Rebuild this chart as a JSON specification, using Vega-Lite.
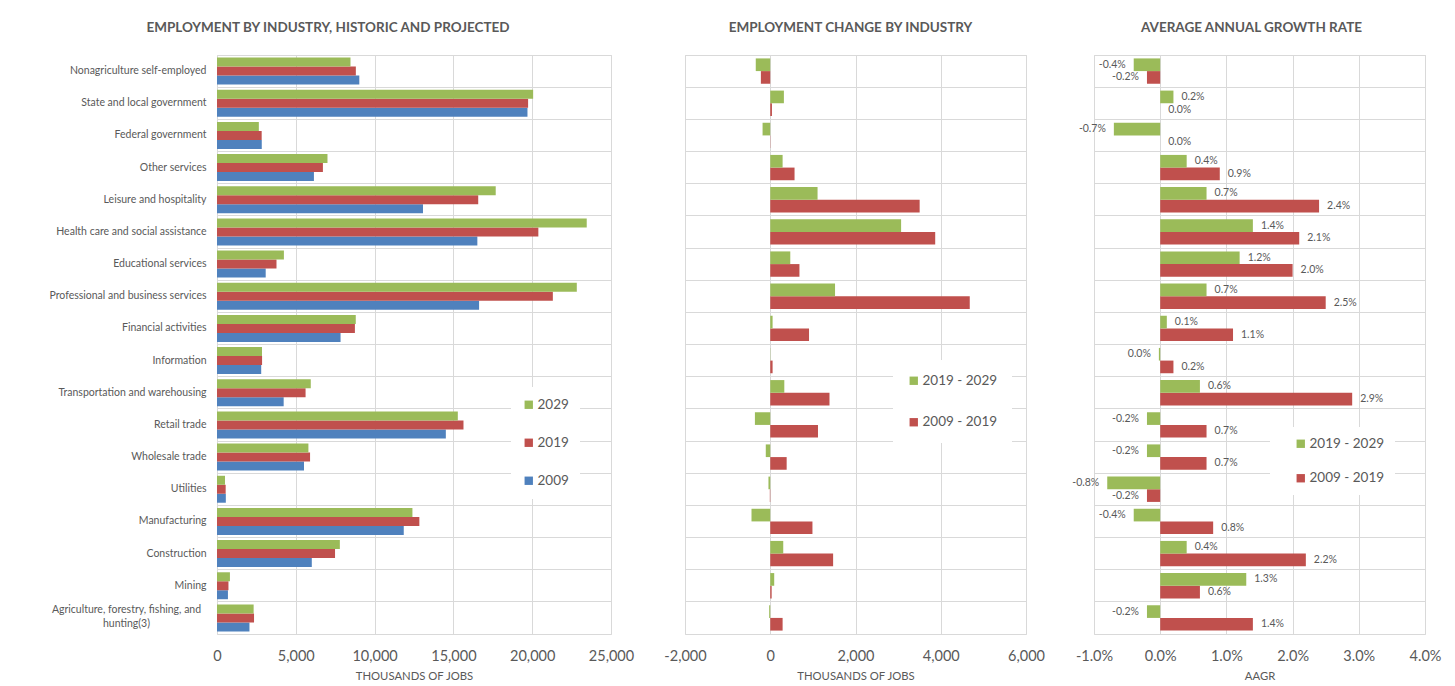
{
  "$schema": "https://vega.github.io/schema/vega-lite/v6.json",
  "background": "white",
  "padding": {"left": 0, "top": 20, "right": 5, "bottom": 0},
  "config": {
    "font": "Lato",
    "locale": {"number": {"decimal": ".", "thousands": ",", "grouping": [3], "currency": ["$", ""], "minus": "-"}},
    "view": {"stroke": "#d9d9d9", "strokeWidth": 1},
    "axis": {
      "labelColor": "#595959", "titleColor": "#595959", "gridColor": "#d9d9d9", "gridWidth": 1,
      "domain": false, "ticks": false, "labelFont": "Lato", "titleFont": "Lato", "titleFontWeight": "normal",
      "labelFlush": false
    },
    "title": {"font": "Lato", "fontSize": 13.5, "fontWeight": "bold", "color": "#595959", "offset": 21, "anchor": "middle", "frame": "group"},
    "legend": {
      "orient": "none", "title": null, "fillColor": "white", "symbolType": "square", "symbolSize": 70,
      "symbolStrokeWidth": 0, "labelFontSize": 13.5, "labelColor": "#595959", "labelFont": "Lato", "labelOffset": 2
    },
    "bar": {"stroke": null}
  },
  "datasets": {
    "employment": [
      {"industry": "Nonagriculture self-employed", "year": "2009", "jobs": 9030},
      {"industry": "Nonagriculture self-employed", "year": "2019", "jobs": 8810},
      {"industry": "Nonagriculture self-employed", "year": "2029", "jobs": 8470},
      {"industry": "State and local government", "year": "2009", "jobs": 19700},
      {"industry": "State and local government", "year": "2019", "jobs": 19740},
      {"industry": "State and local government", "year": "2029", "jobs": 20060},
      {"industry": "Federal government", "year": "2009", "jobs": 2840},
      {"industry": "Federal government", "year": "2019", "jobs": 2835},
      {"industry": "Federal government", "year": "2029", "jobs": 2655},
      {"industry": "Other services", "year": "2009", "jobs": 6150},
      {"industry": "Other services", "year": "2019", "jobs": 6720},
      {"industry": "Other services", "year": "2029", "jobs": 7010},
      {"industry": "Leisure and hospitality", "year": "2009", "jobs": 13070},
      {"industry": "Leisure and hospitality", "year": "2019", "jobs": 16575},
      {"industry": "Leisure and hospitality", "year": "2029", "jobs": 17685},
      {"industry": "Health care and social assistance", "year": "2009", "jobs": 16520},
      {"industry": "Health care and social assistance", "year": "2019", "jobs": 20390},
      {"industry": "Health care and social assistance", "year": "2029", "jobs": 23460},
      {"industry": "Educational services", "year": "2009", "jobs": 3090},
      {"industry": "Educational services", "year": "2019", "jobs": 3775},
      {"industry": "Educational services", "year": "2029", "jobs": 4245},
      {"industry": "Professional and business services", "year": "2009", "jobs": 16630},
      {"industry": "Professional and business services", "year": "2019", "jobs": 21310},
      {"industry": "Professional and business services", "year": "2029", "jobs": 22830},
      {"industry": "Financial activities", "year": "2009", "jobs": 7840},
      {"industry": "Financial activities", "year": "2019", "jobs": 8750},
      {"industry": "Financial activities", "year": "2029", "jobs": 8805},
      {"industry": "Information", "year": "2009", "jobs": 2805},
      {"industry": "Information", "year": "2019", "jobs": 2860},
      {"industry": "Information", "year": "2029", "jobs": 2855},
      {"industry": "Transportation and warehousing", "year": "2009", "jobs": 4230},
      {"industry": "Transportation and warehousing", "year": "2019", "jobs": 5620},
      {"industry": "Transportation and warehousing", "year": "2029", "jobs": 5950},
      {"industry": "Retail trade", "year": "2009", "jobs": 14520},
      {"industry": "Retail trade", "year": "2019", "jobs": 15640},
      {"industry": "Retail trade", "year": "2029", "jobs": 15280},
      {"industry": "Wholesale trade", "year": "2009", "jobs": 5520},
      {"industry": "Wholesale trade", "year": "2019", "jobs": 5905},
      {"industry": "Wholesale trade", "year": "2029", "jobs": 5800},
      {"industry": "Utilities", "year": "2009", "jobs": 560},
      {"industry": "Utilities", "year": "2019", "jobs": 550},
      {"industry": "Utilities", "year": "2029", "jobs": 508},
      {"industry": "Manufacturing", "year": "2009", "jobs": 11850},
      {"industry": "Manufacturing", "year": "2019", "jobs": 12840},
      {"industry": "Manufacturing", "year": "2029", "jobs": 12400},
      {"industry": "Construction", "year": "2009", "jobs": 6015},
      {"industry": "Construction", "year": "2019", "jobs": 7490},
      {"industry": "Construction", "year": "2029", "jobs": 7795},
      {"industry": "Mining", "year": "2009", "jobs": 694},
      {"industry": "Mining", "year": "2019", "jobs": 727},
      {"industry": "Mining", "year": "2029", "jobs": 820},
      {"industry": "Agriculture, forestry, fishing, and hunting(3)", "year": "2009", "jobs": 2060},
      {"industry": "Agriculture, forestry, fishing, and hunting(3)", "year": "2019", "jobs": 2350},
      {"industry": "Agriculture, forestry, fishing, and hunting(3)", "year": "2029", "jobs": 2325}
    ],
    "change": [
      {"industry": "Nonagriculture self-employed", "period": "2009 - 2019", "jobs": -220},
      {"industry": "Nonagriculture self-employed", "period": "2019 - 2029", "jobs": -340},
      {"industry": "State and local government", "period": "2009 - 2019", "jobs": 40},
      {"industry": "State and local government", "period": "2019 - 2029", "jobs": 320},
      {"industry": "Federal government", "period": "2009 - 2019", "jobs": -5},
      {"industry": "Federal government", "period": "2019 - 2029", "jobs": -180},
      {"industry": "Other services", "period": "2009 - 2019", "jobs": 570},
      {"industry": "Other services", "period": "2019 - 2029", "jobs": 290},
      {"industry": "Leisure and hospitality", "period": "2009 - 2019", "jobs": 3505},
      {"industry": "Leisure and hospitality", "period": "2019 - 2029", "jobs": 1110},
      {"industry": "Health care and social assistance", "period": "2009 - 2019", "jobs": 3870},
      {"industry": "Health care and social assistance", "period": "2019 - 2029", "jobs": 3070},
      {"industry": "Educational services", "period": "2009 - 2019", "jobs": 685},
      {"industry": "Educational services", "period": "2019 - 2029", "jobs": 470},
      {"industry": "Professional and business services", "period": "2009 - 2019", "jobs": 4680},
      {"industry": "Professional and business services", "period": "2019 - 2029", "jobs": 1520},
      {"industry": "Financial activities", "period": "2009 - 2019", "jobs": 910},
      {"industry": "Financial activities", "period": "2019 - 2029", "jobs": 55},
      {"industry": "Information", "period": "2009 - 2019", "jobs": 55},
      {"industry": "Information", "period": "2019 - 2029", "jobs": -5},
      {"industry": "Transportation and warehousing", "period": "2009 - 2019", "jobs": 1390},
      {"industry": "Transportation and warehousing", "period": "2019 - 2029", "jobs": 330},
      {"industry": "Retail trade", "period": "2009 - 2019", "jobs": 1120},
      {"industry": "Retail trade", "period": "2019 - 2029", "jobs": -360},
      {"industry": "Wholesale trade", "period": "2009 - 2019", "jobs": 385},
      {"industry": "Wholesale trade", "period": "2019 - 2029", "jobs": -105},
      {"industry": "Utilities", "period": "2009 - 2019", "jobs": -10},
      {"industry": "Utilities", "period": "2019 - 2029", "jobs": -42},
      {"industry": "Manufacturing", "period": "2009 - 2019", "jobs": 990},
      {"industry": "Manufacturing", "period": "2019 - 2029", "jobs": -440},
      {"industry": "Construction", "period": "2009 - 2019", "jobs": 1475},
      {"industry": "Construction", "period": "2019 - 2029", "jobs": 305},
      {"industry": "Mining", "period": "2009 - 2019", "jobs": 33},
      {"industry": "Mining", "period": "2019 - 2029", "jobs": 93},
      {"industry": "Agriculture, forestry, fishing, and hunting(3)", "period": "2009 - 2019", "jobs": 290},
      {"industry": "Agriculture, forestry, fishing, and hunting(3)", "period": "2019 - 2029", "jobs": -25}
    ],
    "aagr": [
      {"industry": "Nonagriculture self-employed", "period": "2009 - 2019", "rate": -0.002},
      {"industry": "Nonagriculture self-employed", "period": "2019 - 2029", "rate": -0.004},
      {"industry": "State and local government", "period": "2009 - 2019", "rate": 0.0},
      {"industry": "State and local government", "period": "2019 - 2029", "rate": 0.002},
      {"industry": "Federal government", "period": "2009 - 2019", "rate": 0.0},
      {"industry": "Federal government", "period": "2019 - 2029", "rate": -0.007},
      {"industry": "Other services", "period": "2009 - 2019", "rate": 0.009},
      {"industry": "Other services", "period": "2019 - 2029", "rate": 0.004},
      {"industry": "Leisure and hospitality", "period": "2009 - 2019", "rate": 0.024},
      {"industry": "Leisure and hospitality", "period": "2019 - 2029", "rate": 0.007},
      {"industry": "Health care and social assistance", "period": "2009 - 2019", "rate": 0.021},
      {"industry": "Health care and social assistance", "period": "2019 - 2029", "rate": 0.014},
      {"industry": "Educational services", "period": "2009 - 2019", "rate": 0.02},
      {"industry": "Educational services", "period": "2019 - 2029", "rate": 0.012},
      {"industry": "Professional and business services", "period": "2009 - 2019", "rate": 0.025},
      {"industry": "Professional and business services", "period": "2019 - 2029", "rate": 0.007},
      {"industry": "Financial activities", "period": "2009 - 2019", "rate": 0.011},
      {"industry": "Financial activities", "period": "2019 - 2029", "rate": 0.001},
      {"industry": "Information", "period": "2009 - 2019", "rate": 0.002},
      {"industry": "Information", "period": "2019 - 2029", "rate": -0.0002},
      {"industry": "Transportation and warehousing", "period": "2009 - 2019", "rate": 0.029},
      {"industry": "Transportation and warehousing", "period": "2019 - 2029", "rate": 0.006},
      {"industry": "Retail trade", "period": "2009 - 2019", "rate": 0.007},
      {"industry": "Retail trade", "period": "2019 - 2029", "rate": -0.002},
      {"industry": "Wholesale trade", "period": "2009 - 2019", "rate": 0.007},
      {"industry": "Wholesale trade", "period": "2019 - 2029", "rate": -0.002},
      {"industry": "Utilities", "period": "2009 - 2019", "rate": -0.002},
      {"industry": "Utilities", "period": "2019 - 2029", "rate": -0.008},
      {"industry": "Manufacturing", "period": "2009 - 2019", "rate": 0.008},
      {"industry": "Manufacturing", "period": "2019 - 2029", "rate": -0.004},
      {"industry": "Construction", "period": "2009 - 2019", "rate": 0.022},
      {"industry": "Construction", "period": "2019 - 2029", "rate": 0.004},
      {"industry": "Mining", "period": "2009 - 2019", "rate": 0.006},
      {"industry": "Mining", "period": "2019 - 2029", "rate": 0.013},
      {"industry": "Agriculture, forestry, fishing, and hunting(3)", "period": "2009 - 2019", "rate": 0.014},
      {"industry": "Agriculture, forestry, fishing, and hunting(3)", "period": "2019 - 2029", "rate": -0.002}
    ]
  },
  "hconcat": [
    {
      "title": {"text": "EMPLOYMENT BY INDUSTRY, HISTORIC AND PROJECTED", "dx": -86},
      "width": 394,
      "height": 579,
      "data": {"name": "employment"},
      "mark": {"type": "bar"},
      "encoding": {
        "y": {
          "field": "industry", "type": "nominal",
          "scale": {
            "domain": ["Nonagriculture self-employed", "State and local government", "Federal government", "Other services", "Leisure and hospitality", "Health care and social assistance", "Educational services", "Professional and business services", "Financial activities", "Information", "Transportation and warehousing", "Retail trade", "Wholesale trade", "Utilities", "Manufacturing", "Construction", "Mining", "Agriculture, forestry, fishing, and hunting(3)"],
            "paddingInner": 0, "paddingOuter": 0
          },
          "axis": {
            "title": null, "grid": true, "bandPosition": 0, "labelFontSize": 10.5, "labelLimit": 210,
            "minExtent": 216, "maxExtent": 216, "labelLineHeight": 14,
            "labelExpr": "datum.value == 'Agriculture, forestry, fishing, and hunting(3)' ? ['Agriculture, forestry, fishing, and', 'hunting(3)'] : datum.value",
            "labelAlign": {"condition": {"test": "datum.value == 'Agriculture, forestry, fishing, and hunting(3)'", "value": "center"}, "value": "right"},
            "labelPadding": {"condition": {"test": "datum.value == 'Agriculture, forestry, fishing, and hunting(3)'", "value": 91}, "value": 11},
            "labelOffset": {"condition": {"test": "datum.value == 'Agriculture, forestry, fishing, and hunting(3)'", "value": -8}, "value": 0}
          }
        },
        "x": {
          "field": "jobs", "type": "quantitative",
          "scale": {"domain": [0, 25000], "nice": false},
          "axis": {
            "values": [0, 5000, 10000, 15000, 20000, 25000], "format": ",.0f", "grid": true,
            "title": "THOUSANDS OF JOBS", "labelFontSize": 14.5, "labelPadding": 15,
            "titleFontSize": 11.3, "titlePadding": 8
          }
        },
        "yOffset": {"field": "year", "type": "nominal", "sort": ["2029", "2019", "2009"], "scale": {"paddingInner": 0, "paddingOuter": 0.29}},
        "color": {
          "field": "year", "type": "nominal",
          "scale": {"domain": ["2029", "2019", "2009"], "range": ["#9bbb59", "#c0504d", "#4f81bd"]},
          "legend": {"legendX": 294, "legendY": 332, "padding": 11, "rowPadding": 23}
        }
      }
    },
    {
      "hconcat": [
        {
          "title": {"text": "EMPLOYMENT CHANGE BY INDUSTRY", "dx": -5},
          "width": 341,
          "height": 579,
          "data": {"name": "change"},
          "mark": {"type": "bar"},
          "encoding": {
            "y": {
              "field": "industry", "type": "nominal",
              "scale": {
                "domain": ["Nonagriculture self-employed", "State and local government", "Federal government", "Other services", "Leisure and hospitality", "Health care and social assistance", "Educational services", "Professional and business services", "Financial activities", "Information", "Transportation and warehousing", "Retail trade", "Wholesale trade", "Utilities", "Manufacturing", "Construction", "Mining", "Agriculture, forestry, fishing, and hunting(3)"],
                "paddingInner": 0, "paddingOuter": 0
              },
              "axis": {"title": null, "labels": false, "grid": true, "bandPosition": 0, "minExtent": 0, "maxExtent": 0}
            },
            "x": {
              "field": "jobs", "type": "quantitative",
              "scale": {"domain": [-2000, 6000], "nice": false},
              "axis": {
                "values": [-2000, 0, 2000, 4000, 6000], "format": ",.0f", "grid": true,
                "title": "THOUSANDS OF JOBS", "labelFontSize": 14.5, "labelPadding": 15,
                "titleFontSize": 11.3, "titlePadding": 8
              }
            },
            "yOffset": {"field": "period", "type": "nominal", "sort": ["2019 - 2029", "2009 - 2019"], "scale": {"paddingInner": 0, "paddingOuter": 0.27}},
            "color": {
              "field": "period", "type": "nominal",
              "scale": {"domain": ["2019 - 2029", "2009 - 2019"], "range": ["#9bbb59", "#c0504d"]},
              "legend": {"legendX": 208, "legendY": 305, "padding": 14, "rowPadding": 26.5}
            }
          }
        },
        {
          "title": {"text": "AVERAGE ANNUAL GROWTH RATE", "dx": -8},
          "width": 331,
          "height": 579,
          "data": {"name": "aagr"},
          "encoding": {
            "y": {
              "field": "industry", "type": "nominal",
              "scale": {
                "domain": ["Nonagriculture self-employed", "State and local government", "Federal government", "Other services", "Leisure and hospitality", "Health care and social assistance", "Educational services", "Professional and business services", "Financial activities", "Information", "Transportation and warehousing", "Retail trade", "Wholesale trade", "Utilities", "Manufacturing", "Construction", "Mining", "Agriculture, forestry, fishing, and hunting(3)"],
                "paddingInner": 0, "paddingOuter": 0
              },
              "axis": {"title": null, "labels": false, "grid": true, "bandPosition": 0, "minExtent": 0, "maxExtent": 0}
            },
            "x": {
              "field": "rate", "type": "quantitative",
              "scale": {"domain": [-0.01, 0.04], "nice": false},
              "axis": {
                "values": [-0.01, 0, 0.01, 0.02, 0.03, 0.04], "format": ".1%", "grid": true,
                "title": "AAGR", "labelFontSize": 14.5, "labelPadding": 15,
                "titleFontSize": 11.3, "titlePadding": 8
              }
            },
            "yOffset": {"field": "period", "type": "nominal", "sort": ["2019 - 2029", "2009 - 2019"], "scale": {"paddingInner": 0, "paddingOuter": 0.27}}
          },
          "layer": [
            {
              "mark": {"type": "bar"},
              "encoding": {
                "color": {
                  "field": "period", "type": "nominal",
                  "scale": {"domain": ["2019 - 2029", "2009 - 2019"], "range": ["#9bbb59", "#c0504d"]},
                  "legend": {"legendX": 176, "legendY": 372, "padding": 10, "rowPadding": 19.5, "symbolOffset": 14}
                }
              }
            },
            {
              "transform": [{"filter": "datum.rate >= 0"}],
              "mark": {"type": "text", "align": "left", "baseline": "middle", "dx": 8, "fontSize": 10.5, "color": "#595959"},
              "encoding": {"text": {"field": "rate", "type": "quantitative", "format": ".1%"}}
            },
            {
              "transform": [{"filter": "datum.rate < 0"}],
              "mark": {"type": "text", "align": "right", "baseline": "middle", "dx": -8, "fontSize": 10.5, "color": "#595959"},
              "encoding": {"text": {"field": "rate", "type": "quantitative", "format": ".1%"}}
            }
          ]
        }
      ],
      "spacing": 68,
      "bounds": "flush",
      "resolve": {"scale": {"color": "independent", "x": "independent", "y": "independent", "yOffset": "independent"}, "legend": {"color": "independent"}}
    }
  ],
  "spacing": 74,
  "bounds": "flush",
  "resolve": {"scale": {"color": "independent", "x": "independent", "y": "independent", "yOffset": "independent"}, "legend": {"color": "independent"}}
}
